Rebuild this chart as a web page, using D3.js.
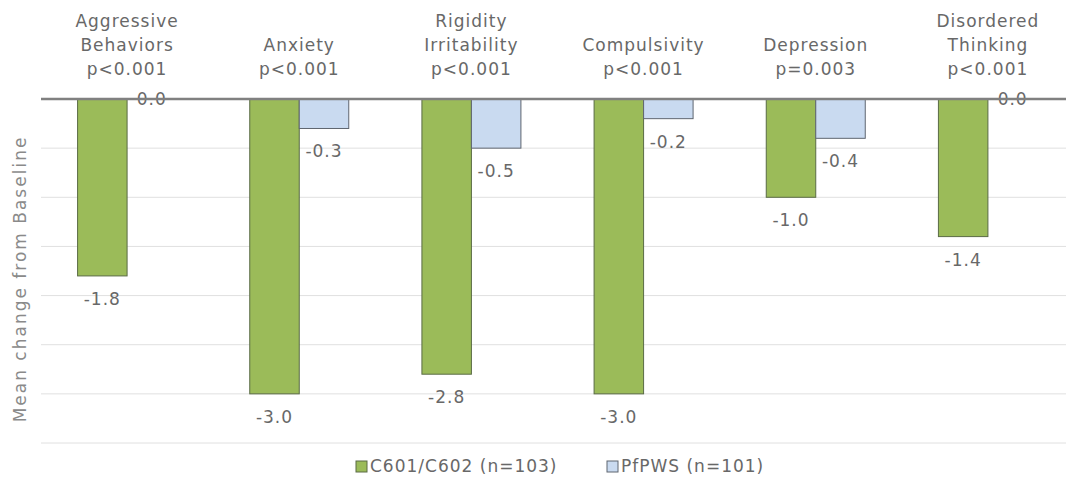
<!DOCTYPE html>
<html>
<head>
<meta charset="utf-8">
<script src="https://cdn.jsdelivr.net/npm/d3@7"></script>
<style>
  body { margin: 0; background: #fff; }
  text { font-family: "DejaVu Sans", sans-serif; fill: #686868; letter-spacing: 1px; }
</style>
</head>
<body>
<div id="chart"></div>
<script>
const categories = [
  ["Aggressive", "Behaviors", "p<0.001"],
  ["Anxiety", "p<0.001"],
  ["Rigidity", "Irritability", "p<0.001"],
  ["Compulsivity", "p<0.001"],
  ["Depression", "p=0.003"],
  ["Disordered", "Thinking", "p<0.001"]
];
const seriesNames = ["C601/C602 (n=103)", "PfPWS (n=101)"];
const c601 = [-1.8, -3.0, -2.8, -3.0, -1.0, -1.4];
const pfpws = [0.0, -0.3, -0.5, -0.2, -0.4, 0.0];
const yTicks = [0, -0.5, -1.0, -1.5, -2.0, -2.5, -3.0, -3.5];

const width = 1066, height = 479;
const colors = ["#9bbb59", "#c9daf0"];
const strokes = ["#5a6b45", "#5f6670"];

const svg = d3.select("#chart").append("svg")
  .attr("width", width)
  .attr("height", height);

const x0 = d3.scaleBand()
  .domain(d3.range(categories.length))
  .range([41, 1074]);

const x1 = d3.scaleBand()
  .domain([0, 1])
  .range([x0.bandwidth() / 2 - 49.5, x0.bandwidth() / 2 + 49.5]);

const y = d3.scaleLinear()
  .domain([-3.5, 0])
  .range([443, 99]);

// gridlines
svg.append("g")
  .selectAll("line")
  .data(yTicks.filter(d => d !== 0))
  .enter()
  .append("line")
  .attr("x1", 41)
  .attr("x2", width)
  .attr("y1", d => y(d))
  .attr("y2", d => y(d))
  .attr("stroke", "#e0e0e0")
  .attr("stroke-width", 1);

const series = [c601, pfpws];

series.forEach((vals, s) => {
  const g = svg.append("g");
  g.selectAll("rect")
    .data(vals)
    .enter()
    .append("rect")
    .attr("x", (d, i) => x0(i) + x1(s))
    .attr("y", y(0))
    .attr("width", x1.bandwidth())
    .attr("height", d => y(d) - y(0))
    .attr("fill", colors[s])
    .attr("stroke", strokes[s])
    .attr("stroke-width", 1);

  g.selectAll("text")
    .data(vals)
    .enter()
    .append("text")
    .attr("x", (d, i) => x0(i) + x1(s) + x1.bandwidth() / 2)
    .attr("y", d => d === 0 ? y(0) + 6 : y(d) + 29)
    .attr("text-anchor", "middle")
    .style("font-size", "17px")
    .text(d => d.toFixed(1));
});

// zero line
svg.append("line")
  .attr("x1", 41)
  .attr("x2", width)
  .attr("y1", y(0))
  .attr("y2", y(0))
  .attr("stroke", "#808080")
  .attr("stroke-width", 2.5);

// category labels
categories.forEach((lines, i) => {
  const cx = x0(i) + x0.bandwidth() / 2;
  const t = svg.append("text")
    .attr("text-anchor", "middle")
    .style("font-size", "17px");
  lines.forEach((ln, j) => {
    t.append("tspan")
      .attr("x", cx)
      .attr("y", 75 - (lines.length - 1 - j) * 24)
      .text(ln);
  });
});

// y-axis title
svg.append("text")
  .attr("transform", "translate(26," + 279 + ") rotate(-90)")
  .attr("text-anchor", "middle")
  .style("font-size", "17px")
  .style("letter-spacing", "2px")
  .style("fill", "#8a8a8a")
  .text("Mean change from Baseline");

// legend
const legendX = [356, 607];
seriesNames.forEach((name, s) => {
  svg.append("rect")
    .attr("x", legendX[s])
    .attr("y", 461)
    .attr("width", 11)
    .attr("height", 11)
    .attr("fill", colors[s])
    .attr("stroke", strokes[s]);
  svg.append("text")
    .attr("x", legendX[s] + 14)
    .attr("y", 472)
    .style("font-size", "17px")
    .text(name);
});
</script>
</body>
</html>
